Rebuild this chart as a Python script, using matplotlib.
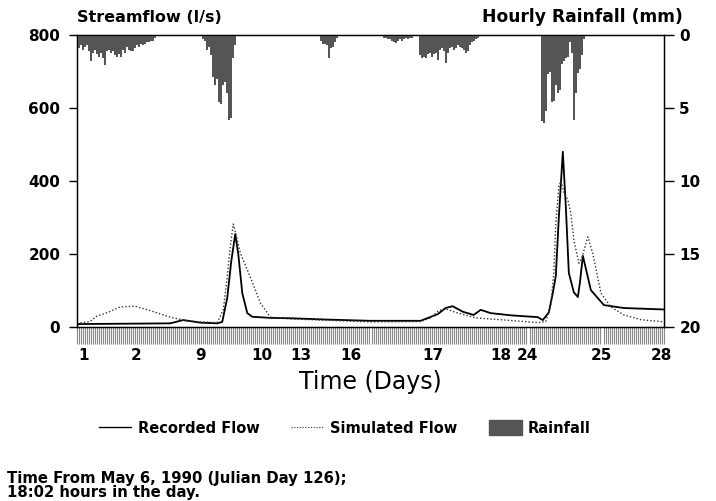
import matplotlib
matplotlib.use("Agg")
import matplotlib.pyplot as plt
from matplotlib.lines import Line2D
from matplotlib.patches import Patch
import numpy as np

# ---- data (x in hours of the record) ----
rec_hours = [0, 46.5, 53, 61.5, 70, 72.5, 75, 77, 79, 80.5, 82.5, 85, 87.5, 96.5, 106.5, 126.5, 146.5,
             171.5, 180, 184, 187.5, 192.5, 198, 201.5, 206.5, 216.5, 230, 232.5, 235.5, 237.5, 239,
             240.5, 242.5, 244, 245.5, 248, 250, 251, 252.5, 254, 256.5, 263, 273, 293]
rec_flow = [8, 10, 19, 12, 10, 14, 80, 180, 255, 200, 93, 38, 28, 25, 24, 20, 17,
            17, 35, 52, 57, 42, 33, 47, 38, 32, 27, 19, 40, 93, 140,
            300, 480, 329, 148, 95, 82, 120, 195, 160, 101, 60, 52, 48]

sim_hours = [0, 6.5, 10, 15.5, 21.5, 29, 36.5, 46.5, 54, 61.5, 70, 71.5, 73, 75, 76.5, 78, 79.5,
             81.5, 86.5, 91.5, 96.5, 106.5, 126.5, 146.5, 171.5, 176.5, 180.5, 184, 189, 199,
             211.5, 230, 234, 236.5, 238, 239, 240.5, 241.5, 243, 245, 246.5, 248, 250.5, 252,
             255, 257.5, 261.5, 266.5, 273, 281.5, 293]
sim_flow = [10, 15, 30, 40, 55, 57, 45, 27, 18, 14, 12, 30, 47, 137, 220, 282, 250,
            203, 137, 66, 27, 22, 18, 14, 15, 25, 45, 50, 40, 25,
            20, 12, 15, 60, 148, 285, 384, 400, 370, 348, 312, 238, 175, 190,
            247, 200, 93, 55, 33, 20, 14]

rain_hours = (list(range(1, 41)) + list(range(63, 80)) + list(range(122, 131))
              + list(range(152, 170)) + list(range(171, 201)) + list(range(232, 254)))
rain_mm = ([0.9, 0.7, 1.0, 0.8, 0.7, 1.1, 1.8, 1.2, 1.0, 1.3, 1.5, 1.2, 1.6, 2.05, 1.1, 1.0, 1.2, 1.1,
            1.4, 1.5, 1.3, 1.5, 1.0, 1.2, 0.8, 1.0, 1.1, 1.1, 0.9, 0.7, 0.8, 0.6, 0.7, 0.6, 0.5, 0.5,
            0.4, 0.4, 0.2, 0.1]
           + [0.3, 0.4, 1.0, 0.8, 1.4, 2.9, 3.4, 3.0, 4.6, 4.7, 3.4, 3.2, 4.0, 5.8, 5.7, 1.6, 0.7]
           + [0.4, 0.6, 0.6, 0.7, 1.6, 0.9, 0.8, 0.5, 0.2]
           + [0.1, 0.2, 0.2, 0.3, 0.3, 0.4, 0.5, 0.55, 0.4, 0.3, 0.4, 0.3, 0.2, 0.3, 0.2, 0.2, 0.1, 0.1]
           + [1.4, 1.6, 1.5, 1.6, 1.3, 1.2, 1.5, 1.3, 1.2, 1.7, 1.0, 0.9, 1.1, 1.9, 1.2, 0.9, 0.8,
              1.0, 0.9, 0.7, 0.8, 0.9, 1.0, 1.2, 1.1, 0.7, 0.5, 0.4, 0.3, 0.2]
           + [5.9, 6.0, 5.2, 2.7, 2.5, 4.6, 4.5, 3.4, 4.0, 3.8, 2.0, 1.8, 1.6, 1.5, 0.5, 1.2, 5.8,
              4.0, 2.6, 2.3, 1.4, 0.3])

day_tick_hours = [3.5, 29.5, 61.5, 92.5, 111.5, 136.5, 177.5, 211.5, 225, 262, 291.5]
day_tick_labels = ["1", "2", "9", "10", "13", "16", "17", "18", "24", "25", "28"]
flow_ticks = [0, 200, 400, 600, 800]
rain_ticks = [0, 5, 10, 15, 20]

plt.rcParams['font.family'] = ['DejaVu Sans']

fig = plt.figure(figsize=(7.16, 5.01), dpi=100)
ax = fig.add_axes([77/716, 1-327/501, (664-77)/716, (327-35)/501])

ax.plot(rec_hours, rec_flow, color='black', lw=1.3, solid_joinstyle='round')
ax.plot(sim_hours, sim_flow, color='#333333', lw=1.0, ls=(0, (1, 1.5)))
ax.set_xlim(0, 293)
ax.set_ylim(0, 800)
ax.set_yticks(flow_ticks)
ax.set_yticklabels([str(v) for v in flow_ticks], fontsize=11, fontweight='bold')
ax.tick_params(axis='y', direction='out', length=6, width=1, pad=6)

ax.set_xticks(day_tick_hours)
ax.set_xticklabels(day_tick_labels, fontsize=11, fontweight='bold')
ax.set_xticks(np.arange(0, 294, 1), minor=True)
ax.tick_params(axis='x', which='major', length=0, pad=15)
ax.tick_params(axis='x', which='minor', direction='out', length=12, width=0.8, color='#8a8a8a')
ax.set_xlabel("Time (Days)", fontsize=17, labelpad=5)

for s in ax.spines.values():
    s.set_linewidth(1.0)

ax2 = ax.twinx()
ax2.bar(rain_hours, rain_mm, width=1.0, color='#555555', edgecolor='none', align='center')
ax2.set_ylim(20, 0)
ax2.set_yticks(rain_ticks)
ax2.set_yticklabels([str(v) for v in rain_ticks], fontsize=11, fontweight='bold')
ax2.tick_params(axis='y', direction='out', length=7, width=1, pad=4)
ax2.set_xlim(0, 293)

fig.text(77/716, 1-17/501, "Streamflow (l/s)", fontsize=11.5, fontweight='bold', ha='left', va='center')
fig.text(683/716, 1-17/501, "Hourly Rainfall (mm)", fontsize=12.3, fontweight='bold', ha='right', va='center')

handles = [Line2D([], [], color='black', lw=1.0),
           Line2D([], [], color='#333333', lw=0.8, ls=(0, (1, 1.5))),
           Patch(facecolor='#555555', edgecolor='#555555')]
fig.legend(handles, ["Recorded Flow", "Simulated Flow", "Rainfall"], loc='center',
           bbox_to_anchor=(345/716, 1-428/501), ncol=3, frameon=False,
           prop={'size': 10.5, 'weight': 'bold'}, handlelength=2.2, handletextpad=0.45,
           columnspacing=2.2, handleheight=1.2)

fig.text(7/716, 1-478/501, "Time From May 6, 1990 (Julian Day 126);", fontsize=10.7, fontweight='bold',
         ha='left', va='center')
fig.text(7/716, 1-492/501, "18:02 hours in the day.", fontsize=10.7, fontweight='bold',
         ha='left', va='center')

fig.savefig("out.png", dpi=100)
